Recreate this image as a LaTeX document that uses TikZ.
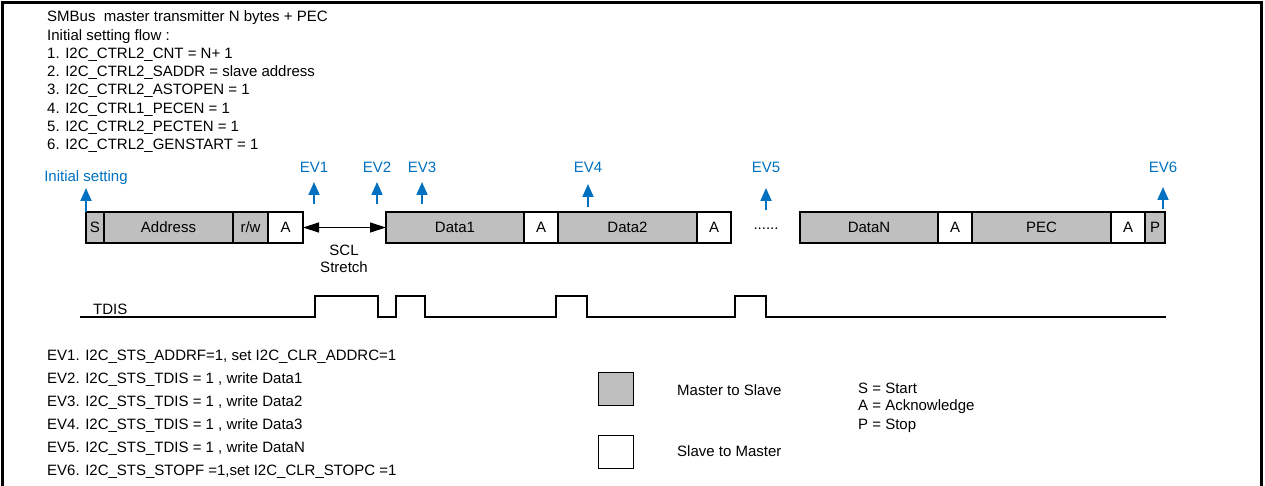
\documentclass[tikz,border=0pt]{standalone}
\usepackage{fontspec}
\setmainfont{Liberation Sans}
\usetikzlibrary{arrows.meta}
\definecolor{evblue}{RGB}{0,112,192}
\definecolor{mgray}{RGB}{191,191,191}
\begin{document}
\begin{tikzpicture}[x=1pt,y=-1pt,
  txt/.style={inner sep=0pt, font=\fontsize{15}{17}\selectfont},
  lt/.style={txt, anchor=west},
  ms/.style={draw, line width=1.3pt, fill=mgray, minimum height=31pt, inner sep=0pt, outer sep=0pt, anchor=west, font=\fontsize{15}{17}\selectfont},
  sm/.style={ms, fill=white},
  ev/.style={txt, text=evblue},
  evarrow/.style={evblue, line width=1.8pt, -{Triangle[width=11pt,length=13pt]}},
  wave/.style={line width=1.4pt},
]
\useasboundingbox (0,0) rectangle (1265,486);
% frame
\draw[line width=3pt] (2.5,486) -- (2.5,2.5) -- (1261,2.5) -- (1261,486);

% header
\foreach \t [count=\i from 0] in {SMBus\ \ master transmitter N bytes + PEC,Initial setting flow :,1. I2C\_CTRL2\_CNT = N+ 1,2. I2C\_CTRL2\_SADDR = slave address,3. I2C\_CTRL2\_ASTOPEN = 1,4. I2C\_CTRL1\_PECEN = 1,5. I2C\_CTRL2\_PECTEN = 1,6. I2C\_CTRL2\_GENSTART = 1}
  \node[lt] (h\i) at (47,{18+\i*18.3}) {\t};

% frame boxes
\node[ms, minimum width=18pt] (s) at (86,227.5) {S};
\node[ms, minimum width=129pt] (addr) at (s.east) {Address};
\node[ms, minimum width=35pt] (rw) at (addr.east) {r/w};
\node[sm, minimum width=35pt] (a0) at (rw.east) {A};
\node[ms, minimum width=138pt] (d1) at (386,227.5) {Data1};
\node[sm, minimum width=34pt] (a1) at (d1.east) {A};
\node[ms, minimum width=139pt] (d2) at (a1.east) {Data2};
\node[sm, minimum width=34pt] (a2) at (d2.east) {A};
\node[txt] (dots) at (766,229) {......};
\node[ms, minimum width=138pt] (dn) at (800,227.5) {DataN};
\node[sm, minimum width=34pt] (an) at (dn.east) {A};
\node[ms, minimum width=139pt] (pec) at (an.east) {PEC};
\node[sm, minimum width=34pt] (ap) at (pec.east) {A};
\node[ms, minimum width=20pt] (p) at (ap.east) {P};

% SCL stretch
\draw[line width=1.3pt, {Triangle[width=10pt,length=16pt]}-{Triangle[width=10pt,length=16pt]}] (a0) -- (d1);
\node[txt] (scl) at (344,250) {SCL};
\node[txt] (str) at (344,267) {Stretch};

% events
\node[ev] (init) at (86,178) {Initial setting};
\coordinate (initT) at (86,212);
\coordinate (initH) at (86,188);
\draw[evarrow] (initT) -- (initH);
\foreach \n/\x/\ya/\yb in {1/314/204/182,2/377/204/182,3/422/204/182,4/588/207/184,5/766/210/188,6/1163/209/187}{
  \node[ev] (ev\n) at (\x,167) {EV\n};
  \coordinate (ev\n T) at (\x,\ya);
  \coordinate (ev\n H) at (\x,\yb);
  \draw[evarrow] (ev\n T) -- (ev\n H);
}

% TDIS waveform
\node[txt, anchor=south west] (tdis) at (93,315) {TDIS};
\draw[wave] (80,317) -- (315,317) -- (315,296) -- (378,296) -- (378,317) -- (396,317) -- (396,296) -- (425,296) -- (425,317) -- (556,317) -- (556,296) -- (587,296) -- (587,317) -- (735,317) -- (735,296) -- (766,296) -- (766,317) -- (1166,317);

% event list
\foreach \t [count=\i from 0] in {{EV1. I2C\_STS\_ADDRF=1, set I2C\_CLR\_ADDRC=1},{EV2. I2C\_STS\_TDIS = 1 , write Data1},{EV3. I2C\_STS\_TDIS = 1 , write Data2},{EV4. I2C\_STS\_TDIS = 1 , write Data3},{EV5. I2C\_STS\_TDIS = 1 , write DataN},{EV6. I2C\_STS\_STOPF =1,set I2C\_CLR\_STOPC =1}}
  \node[lt] (e\i) at (47,{357+\i*23}) {\t};

% legend
\node[ms, minimum width=35pt, minimum height=33pt, anchor=center] (lgm) at (616,389) {};
\node[sm, minimum width=35pt, minimum height=33pt, anchor=center] (lgs) at (616,452) {};
\node[lt] (lgmt) at (677,390) {Master to Slave};
\node[lt] (lgst) at (677,451) {Slave to Master};
\node[lt] (ks) at (858,388) {S = Start};
\node[lt] (ka) at (858,407) {A = Acknowledge};
\node[lt] (kp) at (858,426) {P = Stop};
\end{tikzpicture}
\end{document}
